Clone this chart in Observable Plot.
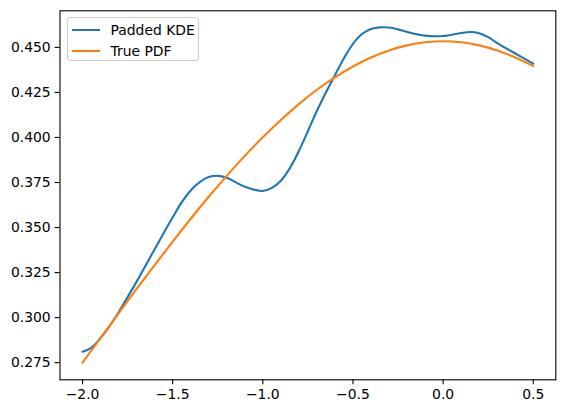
<!DOCTYPE html>
<html>
<head>
<meta charset="utf-8">
<script src="https://cdn.jsdelivr.net/npm/d3@7"></script>
<script src="https://cdn.jsdelivr.net/npm/@observablehq/plot@0.6"></script>
<style>
  body { margin: 0; background: white; }
  #wrap { position: relative; width: 565px; height: 413px; font-family: "DejaVu Sans", sans-serif; }
  #legend { position: absolute; left: 66.5px; top: 17px; width: 132px; height: 44px;
            border: 1px solid #cccccc; border-radius: 3px; background: rgba(255,255,255,0.8); box-sizing: border-box; }
  .item { position: absolute; left: 0; height: 20px; font-size: 13.9px; color: black; }
  .swatch { position: absolute; left: 4.5px; width: 28px; height: 2.1px; top: 9px; }
  .lbl { position: absolute; left: 43px; top: 1px; white-space: nowrap; line-height: 18px; }
</style>
</head>
<body>
<div id="wrap"></div>
<script>
// Series
const seriesNames = ["Padded KDE", "True PDF"];
const seriesColors = ["#1f77b4", "#ff7f0e"];

const kdeX = [-2.0, -1.95, -1.9, -1.85, -1.8, -1.7, -1.6, -1.5, -1.45, -1.4, -1.35, -1.3, -1.25, -1.2, -1.1, -1.0, -0.95, -0.9, -0.85, -0.8, -0.75, -0.7, -0.65, -0.6, -0.55, -0.5, -0.45, -0.4, -0.35, -0.3, -0.25, -0.2, -0.1, 0.0, 0.1, 0.15, 0.2, 0.25, 0.3, 0.4, 0.5];
const kdeY = [0.2811, 0.2834, 0.2887, 0.2953, 0.3030, 0.3200, 0.3380, 0.3557, 0.3640, 0.3706, 0.3752, 0.3780, 0.3787, 0.3776, 0.3727, 0.3703, 0.3720, 0.3760, 0.3830, 0.3925, 0.4035, 0.4148, 0.4250, 0.4346, 0.4440, 0.4520, 0.4574, 0.4602, 0.4611, 0.4610, 0.4600, 0.4586, 0.4565, 0.4563, 0.4580, 0.4585, 0.4578, 0.4557, 0.4524, 0.4466, 0.4410];

const pdfX = [-2.0, -1.9, -1.8, -1.7, -1.6, -1.5, -1.4, -1.3, -1.2, -1.1, -1.0, -0.9, -0.8, -0.7, -0.6, -0.5, -0.4, -0.3, -0.2, -0.1, 0.0, 0.1, 0.2, 0.3, 0.4, 0.5];
const pdfY = [0.2750, 0.2887, 0.3024, 0.3159, 0.3292, 0.3422, 0.3549, 0.3671, 0.3787, 0.3898, 0.4001, 0.4097, 0.4185, 0.4265, 0.4334, 0.4394, 0.4444, 0.4483, 0.4511, 0.4528, 0.4534, 0.4528, 0.4511, 0.4483, 0.4444, 0.4397];

const xTicks = [-2.0, -1.5, -1.0, -0.5, 0.0, 0.5];
const yTicks = [0.275, 0.300, 0.325, 0.350, 0.375, 0.400, 0.425, 0.450];

const kde = kdeX.map((x, i) => ({x, y: kdeY[i]}));
const pdf = pdfX.map((x, i) => ({x, y: pdfY[i]}));

const chart = Plot.plot({
  width: 565,
  height: 413,
  marginLeft: 59.5,
  marginRight: 9.7,
  marginTop: 10.3,
  marginBottom: 33.7,
  style: {fontFamily: "DejaVu Sans", fontSize: "13.9px", background: "white", color: "black"},
  x: {domain: [-2.125, 0.625]},
  y: {domain: [0.2655, 0.4703]},
  marks: [
    Plot.line(kde, {x: "x", y: "y", stroke: seriesColors[0], strokeWidth: 2.1, curve: "catmull-rom"}),
    Plot.line(pdf, {x: "x", y: "y", stroke: seriesColors[1], strokeWidth: 2.1, curve: "natural"}),
    Plot.frame({stroke: "black", strokeWidth: 1.1}),
    Plot.axisX({ticks: xTicks, tickSize: 4.9, tickPadding: 4.4, tickFormat: d3.format(".1f"), label: null, fontSize: 13.9, strokeWidth: 1.1}),
    Plot.axisY({ticks: yTicks, tickSize: 4.9, tickPadding: 4.4, tickFormat: d3.format(".3f"), label: null, fontSize: 13.9, strokeWidth: 1.1})
  ]
});

const wrap = document.getElementById("wrap");
wrap.appendChild(chart);

const legend = document.createElement("div");
legend.id = "legend";
seriesNames.forEach((name, i) => {
  const item = document.createElement("div");
  item.className = "item";
  item.style.top = (i === 0 ? 2 : 22.5) + "px";
  const sw = document.createElement("div");
  sw.className = "swatch";
  sw.style.background = seriesColors[i];
  const lb = document.createElement("div");
  lb.className = "lbl";
  lb.textContent = name;
  item.appendChild(sw);
  item.appendChild(lb);
  legend.appendChild(item);
});
wrap.appendChild(legend);
</script>
</body>
</html>
